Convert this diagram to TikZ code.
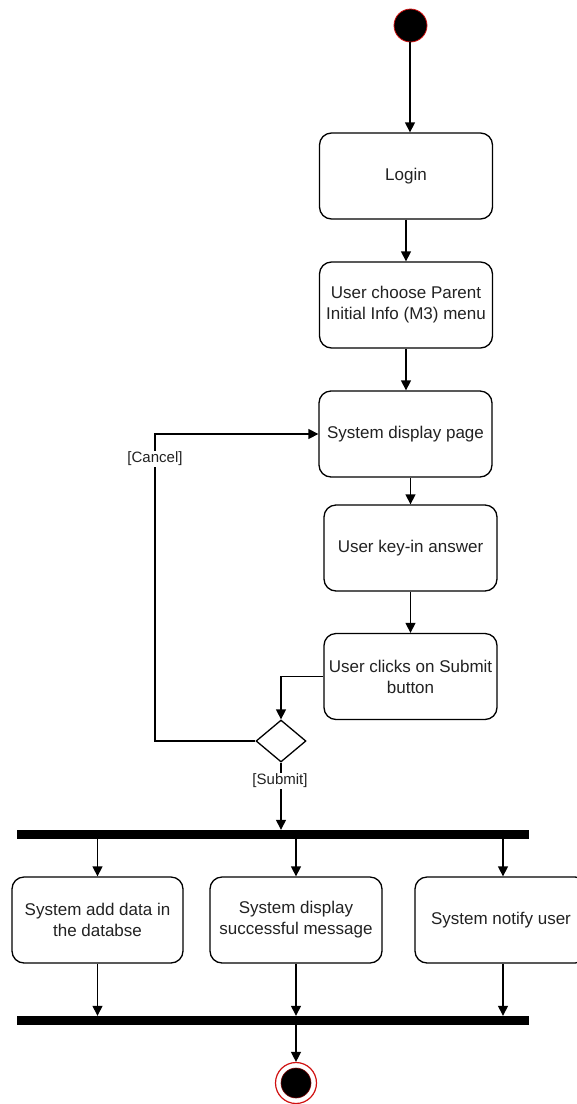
\documentclass[tikz,border=0pt]{standalone}
\usepackage{fontspec}
\setmainfont{Liberation Sans}
\usetikzlibrary{arrows.meta,shapes.geometric}
\definecolor{txt}{HTML}{222222}
\definecolor{ring}{HTML}{D01010}
\tikzset{
  act/.style={draw=black, line width=1.3pt, rounded corners=12pt, fill=white,
    minimum width=173pt, minimum height=86pt, inner sep=2pt, align=center,
    text=txt, font=\fontsize{17}{21}\selectfont},
  barnode/.style={fill=black, draw=none, minimum width=512pt, minimum height=9pt, inner sep=0pt},
  guard/.style={fill=white, inner sep=1pt, text=txt, font=\fontsize{15}{18}\selectfont},
  flow/.style={line width=1.3pt, -{Triangle[length=10pt,width=10pt]}},
  dec/.style={diamond, draw=black, line width=1.3pt, fill=white, minimum width=50pt, minimum height=42pt, inner sep=0pt, aspect=1.19}
}
\begin{document}
\begin{tikzpicture}[x=1pt,y=-1pt]
\useasboundingbox (0,0) rectangle (577,1104);
\fill[white] (0,0) rectangle (577,1104);

\node[circle, fill=black, draw=ring, line width=0.8pt, minimum size=33pt, inner sep=0pt] (start) at (410.5,25.5) {};

\node[act] (login) at (406,176) {Login};
\node[act] (menu) at (406,305) {User choose Parent\\Initial Info (M3) menu};
\node[act] (disp) at (405.5,434) {System display page};
\node[act] (key) at (410.5,548) {User key-in answer};
\node[act] (submit) at (410.5,676.5) {User clicks on Submit\\button};

\node[dec] (dec) at (281,741) {};

\node[barnode] (fork) at (273,834.5) {};
\node[barnode] (join) at (273,1020.5) {};

\node[act, minimum width=171pt] (adddata) at (97.5,920) {System add data in\\the databse};
\node[act, minimum width=172pt] (success) at (296,920) {System display\\successful message};
\node[act, minimum width=172pt] (notify) at (501,920) {System notify user};

\node[circle, draw=ring, line width=1.2pt, fill=white, minimum size=41pt, inner sep=0pt] (endo) at (296,1083) {};
\node[circle, fill=black, draw=ring!60!black, line width=0.6pt, minimum size=30pt, inner sep=0pt] (endi) at (296,1083) {};

\coordinate (c1) at (410,0);
\draw[flow] (start.south -| c1) -- (login.north -| c1);
\draw[flow] (login.south) -- (menu.north);
\draw[flow] (menu.south) -- (disp.north -| menu.south);
\draw[flow] (disp.south -| key.north) -- (key.north);
\draw[flow] (key.south) -- (submit.north);
\draw[flow] (submit.west) -| (dec.north);
\coordinate (cx) at (155,0);
\draw[flow] (dec.west) -- (dec.west -| cx) -- (disp.west -| cx) -- (disp.west);
\node[guard] (cancel) at (155,459) {[Cancel]};
\draw[flow] (dec.south) -- (fork.north -| dec.south);
\node[guard] (sub) at (280,781) {[Submit]};

\coordinate (cn) at (503,0);
\draw[flow] (fork.south -| adddata.north) -- (adddata.north);
\draw[flow] (fork.south -| success.north) -- (success.north);
\draw[flow] (fork.south -| cn) -- (notify.north -| cn);
\draw[flow] (adddata.south) -- (join.north -| adddata.south);
\draw[flow] (success.south) -- (join.north -| success.south);
\draw[flow] (notify.south -| cn) -- (join.north -| cn);
\draw[flow] (join.south -| endo.north) -- (endo.north);
\end{tikzpicture}
\end{document}
